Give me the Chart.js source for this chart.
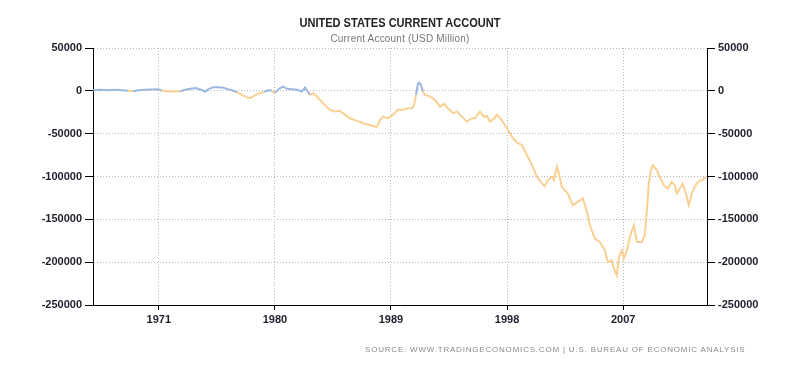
<!DOCTYPE html>
<html>
<head>
<meta charset="utf-8">
<script src="https://cdn.jsdelivr.net/npm/chart.js@4/dist/chart.umd.min.js"></script>
<style>
html,body{margin:0;padding:0;background:#fff;}
#wrap{position:relative;width:800px;height:368px;overflow:hidden;background:#fff;}
#c{position:absolute;left:0;top:0;}
.t{position:absolute;white-space:nowrap;font-family:"Liberation Sans",Arial,sans-serif;}
#title{left:0;width:800px;text-align:center;top:16px;line-height:14px;font-size:13px;font-weight:bold;color:#222;transform:scaleX(0.85);}
#subtitle{left:0;width:800px;text-align:center;top:33px;line-height:12px;font-size:10px;color:#777;letter-spacing:0.2px;}
#source{left:365px;top:345px;line-height:10px;font-size:8px;color:#8a8a8a;letter-spacing:0.8px;}
</style>
</head>
<body>
<div id="wrap">
<canvas id="c" width="800" height="368"></canvas>
<div class="t" id="title">UNITED STATES CURRENT ACCOUNT</div>
<div class="t" id="subtitle">Current Account (USD Million)</div>
<div class="t" id="source">SOURCE: WWW.TRADINGECONOMICS.COM | U.S. BUREAU OF ECONOMIC ANALYSIS</div>
</div>
<script>
// Decimal year positions (as read against the chart's year ticks)
const years = [
1965.91,1966.45,1967.07,1967.61,1968.16,1968.62,1969.01,1969.40,1969.94,1970.48,
1970.95,1971.26,1971.72,1972.19,1972.65,1973.04,1973.43,1973.89,1974.28,1974.59,
1974.90,1975.21,1975.59,1975.98,1976.37,1976.68,1977.07,1977.45,1977.84,1978.07,
1978.38,1978.77,1979.16,1979.47,1979.78,1980.01,1980.32,1980.63,1980.94,1981.33,
1981.72,1982.10,1982.34,1982.72,1982.96,1983.27,1983.73,1984.27,1984.66,1985.05,
1985.44,1985.82,1986.37,1986.83,1987.37,1987.76,1987.91,1988.15,1988.38,1988.77,
1989.15,1989.54,1989.93,1990.32,1990.63,1990.78,1990.94,1991.09,1991.17,1991.32,
1991.48,1991.63,1992.02,1992.41,1992.80,1993.11,1993.42,1993.80,1994.11,1994.50,
1994.89,1995.28,1995.51,1995.90,1996.21,1996.44,1996.67,1996.98,1997.21,1997.52,
1997.83,1998.07,1998.46,1998.84,1999.15,1999.54,1999.93,2000.31,2000.70,2000.93,
2001.17,2001.47,2001.63,2001.86,2002.02,2002.25,2002.48,2002.71,2003.10,2003.49,
2003.88,2004.19,2004.42,2004.81,2005.19,2005.58,2005.81,2006.12,2006.28,2006.51,
2006.67,2006.90,2007.05,2007.29,2007.52,2007.83,2008.06,2008.45,2008.68,2008.84,
2008.99,2009.15,2009.30,2009.61,2009.84,2010.15,2010.46,2010.77,2011.00,2011.16,
2011.39,2011.62,2011.93,2012.09,2012.32,2012.55,2012.79,2013.10,2013.41
];
// Current account, USD million
const values = [
600,1200,600,1200,600,0,-400,600,1200,1500,
1800,0,-800,-800,-600,1200,2300,3200,1200,-800,
2300,4100,4300,3700,1800,600,-1800,-4700,-7600,-8500,
-5900,-2900,-1200,600,0,-2300,2300,5000,2300,1800,
1200,-800,3900,-4700,-2700,-6700,-14400,-22200,-24200,-23400,
-28100,-32000,-35100,-37800,-39800,-41800,-41800,-34000,-30100,-32000,
-28100,-22200,-22200,-20300,-20300,-17200,-4700,8200,9700,7000,
-800,-4700,-6400,-10500,-18400,-15200,-20300,-26100,-24200,-30100,
-35900,-32000,-32000,-24200,-30400,-29300,-35900,-32800,-28100,-32800,
-39800,-45700,-55400,-61200,-63200,-74900,-86700,-100400,-108100,-111200,
-104200,-100400,-104200,-88600,-96400,-112100,-115900,-119800,-133500,-129600,
-125600,-141300,-156900,-172500,-176500,-186200,-199900,-197900,-207600,-215500,
-194000,-186200,-195900,-186200,-170600,-156900,-176500,-176500,-168600,-139300,
-108100,-92500,-86700,-92500,-100400,-110100,-113900,-106200,-110100,-119800,
-113900,-108100,-123800,-133500,-119800,-112100,-106200,-104200,-100700
];
const xTickYears = [1971, 1980, 1989, 1998, 2007];
const yTickValues = [50000, 0, -50000, -100000, -150000, -200000, -250000];

const BLUE = 'rgba(150,180,222,0.95)';
const ORANGE = 'rgba(250,205,140,0.95)';
const GRID = '#b8b8b8';
const LABEL = '#1f1f2c';
const tickFont = { family: '"Liberation Sans", Arial, sans-serif', size: 11, weight: 'bold' };

const points = years.map((x, i) => ({ x: x, y: values[i] }));

function yAxis(pos, onArea) {
  return {
    type: 'linear', position: pos,
    min: yTickValues[yTickValues.length - 1], max: yTickValues[0],
    afterBuildTicks: s => { s.ticks = yTickValues.map(v => ({ value: v })); },
    ticks: { callback: v => String(v), font: tickFont, color: LABEL, padding: 3 },
    grid: { display: true, drawOnChartArea: onArea, color: GRID, lineWidth: 1,
            drawTicks: true, tickLength: 8, tickColor: '#000', tickWidth: 1 },
    border: { display: true, color: '#000', width: 1, dash: [1, 2] },
    afterFit: s => { s.width = 93; }
  };
}

new Chart(document.getElementById('c'), {
  type: 'line',
  data: {
    datasets: [{
      data: points,
      borderWidth: 2,
      pointRadius: 0,
      tension: 0,
      fill: false,
      borderColor: ORANGE,
      segment: {
        borderColor: ctx => (ctx.p0.parsed.y > 0 || ctx.p1.parsed.y > 0) ? BLUE : ORANGE
      }
    }]
  },
  options: {
    responsive: false,
    animation: false,
    devicePixelRatio: 1,
    layout: { padding: { top: 48, left: 0, right: 0, bottom: 0 } },
    plugins: { legend: { display: false }, title: { display: false }, tooltip: { enabled: false } },
    scales: {
      x: {
        type: 'linear', position: 'bottom',
        min: 1965.9, max: 2013.5,
        afterBuildTicks: s => { s.ticks = xTickYears.map(v => ({ value: v })); },
        ticks: { callback: v => String(v), font: tickFont, color: LABEL, padding: 3,
                 maxRotation: 0, autoSkip: false },
        grid: { display: true, drawOnChartArea: true, color: GRID, lineWidth: 1,
                drawTicks: true, tickLength: 5, tickColor: '#000', tickWidth: 1 },
        border: { display: true, color: '#000', width: 1, dash: [1, 2] },
        afterFit: s => { s.height = 63; }
      },
      y: yAxis('left', true),
      y2: yAxis('right', false)
    }
  }
});
</script>
</body>
</html>
